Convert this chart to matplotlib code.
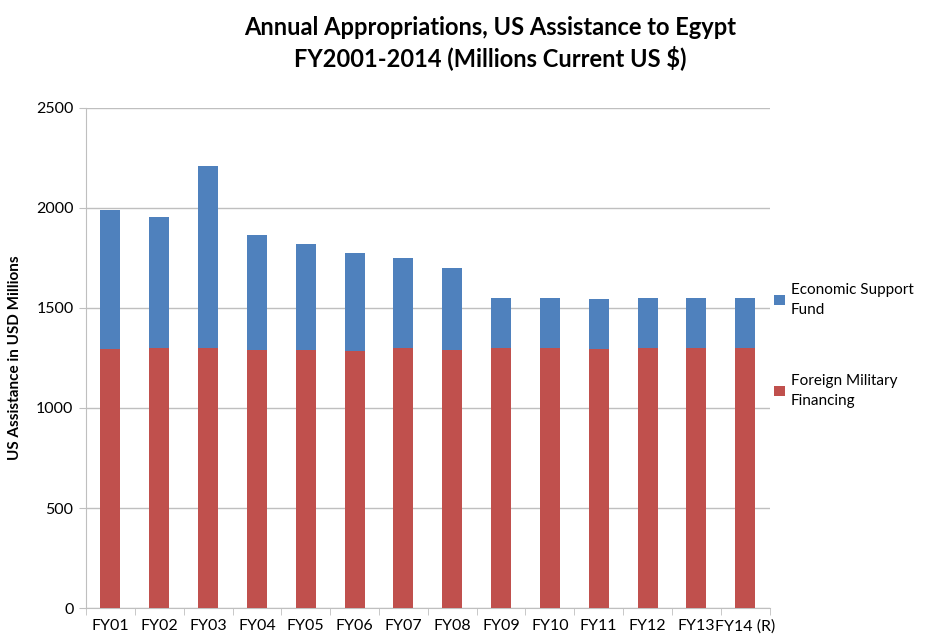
import matplotlib
matplotlib.use("Agg")
import matplotlib.pyplot as plt
import numpy as np

years = ["FY01", "FY02", "FY03", "FY04", "FY05", "FY06", "FY07",
         "FY08", "FY09", "FY10", "FY11", "FY12", "FY13", "FY14 (R)"]
fmf = [1297, 1300, 1300, 1292, 1289, 1287, 1300, 1289, 1300, 1300, 1297, 1300, 1300, 1300]
esf = [695, 655, 911, 572, 531, 490, 450, 412, 250, 250, 250, 250, 250, 250]

BLUE = "#4F81BD"
RED = "#C0504D"
GRID = "#BFBFBF"

plt.rcParams["font.family"] = ["Lato", "DejaVu Sans"]

fig = plt.figure(figsize=(9.25, 6.37), dpi=100)
ax = fig.add_axes([0.093, 0.0455, 0.739, 0.785])

x = np.arange(len(years))
w = 0.41
b1 = ax.bar(x, fmf, w, color=RED, zorder=3)
b2 = ax.bar(x, esf, w, bottom=fmf, color=BLUE, zorder=3)

ax.set_xlim(-0.5, len(years) - 0.5)
ax.set_ylim(0, 2500)
ax.set_yticks(range(0, 2501, 500))
ax.yaxis.grid(True, color=GRID, linewidth=1, zorder=0)

ax.set_xticks(x)
ax.set_xticklabels(years, fontsize=11.5)
ax.set_xticks(np.arange(-0.5, len(years)), minor=True)
ax.tick_params(axis="x", which="major", length=0, pad=8)
ax.tick_params(axis="x", which="minor", length=5, color=GRID, direction="out")
ax.tick_params(axis="y", length=5, color=GRID, labelsize=11.5, pad=4)

for s in ["top", "right"]:
    ax.spines[s].set_visible(False)
for s in ["left", "bottom"]:
    ax.spines[s].set_color(GRID)

ax.set_ylabel("US Assistance in USD Millions", fontsize=11, fontweight="bold", labelpad=10)

fig.suptitle("Annual Appropriations, US Assistance to Egypt\nFY2001-2014 (Millions Current US $)",
             x=0.53, y=0.975, fontsize=17, fontweight="bold", linespacing=1.3)

leg = fig.legend([b2, b1], ["Economic Support\nFund", "Foreign Military\nFinancing"],
                 loc="upper left", bbox_to_anchor=(0.822, 0.578), frameon=False,
                 fontsize=11, handlelength=0.7, handleheight=0.7, handletextpad=0.4,
                 labelspacing=3.7)
for t in leg.get_texts():
    t.set_linespacing(1.6)

fig.savefig("out.png", dpi=100)
